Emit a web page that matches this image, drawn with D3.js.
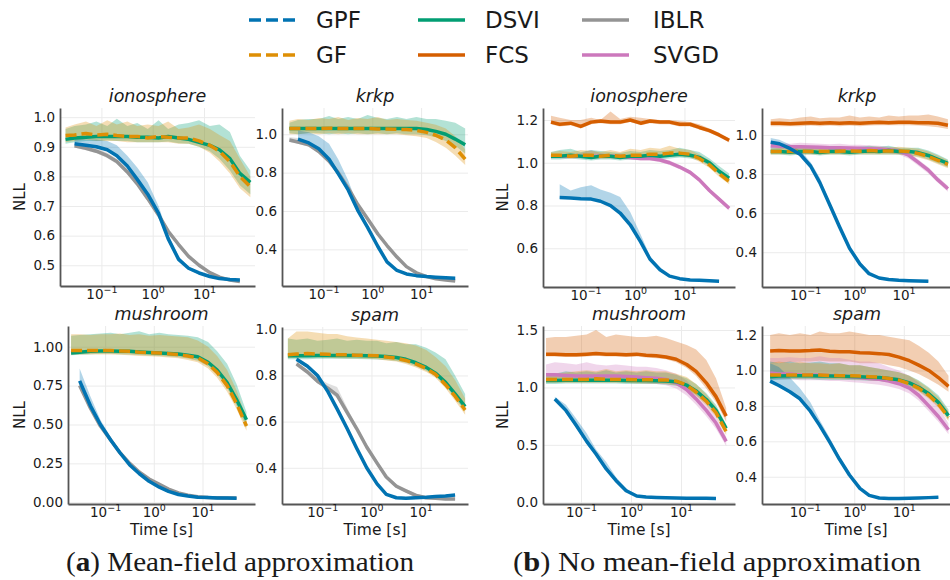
<!DOCTYPE html>
<html>
<head>
<meta charset="utf-8">
<script src="https://cdn.jsdelivr.net/npm/d3@7"></script>
<style>
	body { margin: 0; background: #fff; }
	svg text { font-family: "DejaVu Sans", sans-serif; fill: #1a1a1a; }
	.grid line { stroke: #ebebeb; stroke-width: 1; }
	.grid path { display: none; }
	.axis path { stroke: #555; stroke-width: 1.8; }
	.axis line { display: none; }
	.axis text { font-size: 13.5px; fill: #1a1a1a; }
	.caption { font-family: "Liberation Serif", serif !important; font-size: 28px; }
</style>
</head>
<body>
<svg id="graph" width="950" height="580"></svg>
<script>
// shared time grid (seconds) and tick values
var times = [0.02, 0.03, 0.05, 0.08, 0.13, 0.2, 0.32, 0.5, 0.8, 1.3, 2, 3.2, 5, 8, 13, 20, 32, 50, 80];
var xTicks = [0.1, 1, 10];
var xTickExp = ["\u22121", "0", "1"];
var legendNames = ["GPF", "GF", "DSVI", "FCS", "IBLR", "SVGD"];
var captions = ["Mean-field approximation", "No mean-field approximation"];

var ticksIonoA = [0.5, 0.6, 0.7, 0.8, 0.9, 1.0];
var ticksKrkpA = [0.4, 0.6, 0.8, 1.0];
var ticksIonoB = [0.6, 0.8, 1.0, 1.2];
var ticksKrkpB = [0.4, 0.6, 0.8, 1.0];
var ticksMushA = [0, 0.25, 0.5, 0.75, 1.0];
var ticksSpamA = [0.4, 0.6, 0.8, 1.0];
var ticksMushB = [0, 0.5, 1.0, 1.5];
var ticksSpamB = [0.4, 0.6, 0.8, 1.0, 1.2];

// (a) ionosphere
var ionoA_GPF = [null, 0.91, 0.905, 0.90, 0.89, 0.87, 0.835, 0.79, 0.74, 0.675, 0.59, 0.52, 0.49, 0.474, 0.462, 0.455, 0.452, 0.45, null];
var ionoA_GPF_hi = [null, 0.93, 0.925, 0.925, 0.92, 0.905, 0.87, 0.83, 0.78, 0.70, 0.605, 0.53, 0.495, 0.478, 0.466, 0.458, 0.455, 0.453, null];
var ionoA_GPF_lo = [null, 0.905, 0.9, 0.895, 0.885, 0.865, 0.83, 0.785, 0.735, 0.67, 0.585, 0.515, 0.485, 0.47, 0.458, 0.452, 0.449, 0.447, null];
var ionoA_IBLR = [null, 0.903, 0.895, 0.885, 0.87, 0.85, 0.815, 0.775, 0.725, 0.67, 0.615, 0.57, 0.53, 0.5, 0.475, 0.46, 0.45, 0.445, null];
var ionoA_IBLR_hi = [null, 0.91, 0.905, 0.895, 0.88, 0.86, 0.825, 0.785, 0.735, 0.68, 0.625, 0.578, 0.537, 0.506, 0.48, 0.465, 0.455, 0.45, null];
var ionoA_IBLR_lo = [null, 0.897, 0.888, 0.878, 0.862, 0.842, 0.807, 0.767, 0.717, 0.662, 0.607, 0.563, 0.524, 0.495, 0.47, 0.456, 0.446, 0.441, null];
var ionoA_GF = [0.938, 0.94, 0.945, 0.94, 0.942, 0.938, 0.935, 0.935, 0.93, 0.935, 0.932, 0.93, 0.93, 0.92, 0.905, 0.885, 0.85, 0.80, 0.765];
var ionoA_GF_hi = [0.965, 0.975, 0.985, 0.97, 0.99, 0.975, 0.985, 0.97, 0.975, 0.97, 0.985, 0.96, 0.965, 0.975, 0.96, 0.94, 0.92, 0.86, 0.80];
var ionoA_GF_lo = [0.915, 0.92, 0.925, 0.92, 0.92, 0.92, 0.915, 0.915, 0.915, 0.915, 0.915, 0.91, 0.91, 0.9, 0.88, 0.85, 0.81, 0.76, 0.73];
var ionoA_DSVI = [0.925, 0.93, 0.932, 0.935, 0.935, 0.935, 0.935, 0.932, 0.932, 0.93, 0.935, 0.93, 0.925, 0.915, 0.905, 0.89, 0.86, 0.81, 0.78];
var ionoA_DSVI_hi = [0.96, 0.97, 0.975, 0.985, 0.97, 0.995, 0.97, 0.98, 0.96, 0.99, 0.96, 0.975, 0.98, 0.99, 0.97, 0.975, 0.95, 0.87, 0.82];
var ionoA_DSVI_lo = [0.91, 0.915, 0.92, 0.92, 0.922, 0.92, 0.92, 0.915, 0.915, 0.915, 0.918, 0.912, 0.91, 0.9, 0.885, 0.86, 0.82, 0.77, 0.74];

// (a) krkp
var krkpA_GPF = [null, 0.975, 0.955, 0.925, 0.87, 0.795, 0.71, 0.605, 0.515, 0.415, 0.335, 0.29, 0.272, 0.263, 0.258, 0.255, 0.252, 0.25, null];
var krkpA_GPF_hi = [null, 1.02, 1.01, 0.99, 0.95, 0.87, 0.76, 0.63, 0.525, 0.42, 0.34, 0.295, 0.276, 0.267, 0.262, 0.258, 0.255, 0.253, null];
var krkpA_GPF_lo = [null, 0.97, 0.95, 0.92, 0.865, 0.79, 0.705, 0.6, 0.51, 0.41, 0.33, 0.286, 0.268, 0.259, 0.254, 0.251, 0.249, 0.247, null];
var krkpA_IBLR = [0.97, 0.96, 0.945, 0.91, 0.86, 0.8, 0.72, 0.635, 0.56, 0.48, 0.42, 0.36, 0.31, 0.278, 0.258, 0.247, 0.24, 0.235, null];
var krkpA_IBLR_hi = [0.985, 0.98, 0.96, 0.925, 0.87, 0.81, 0.73, 0.645, 0.57, 0.49, 0.428, 0.367, 0.316, 0.283, 0.262, 0.251, 0.244, 0.239, null];
var krkpA_IBLR_lo = [0.96, 0.95, 0.935, 0.9, 0.85, 0.79, 0.71, 0.625, 0.55, 0.47, 0.412, 0.353, 0.304, 0.273, 0.254, 0.243, 0.236, 0.231, null];
var krkpA_GF = [1.03, 1.03, 1.03, 1.03, 1.032, 1.03, 1.03, 1.03, 1.03, 1.028, 1.028, 1.026, 1.025, 1.02, 1.01, 0.995, 0.97, 0.93, 0.87];
var krkpA_GF_hi = [1.07, 1.08, 1.075, 1.085, 1.08, 1.09, 1.075, 1.085, 1.08, 1.09, 1.075, 1.08, 1.075, 1.07, 1.06, 1.05, 1.03, 0.99, 0.92];
var krkpA_GF_lo = [1.0, 1.0, 1.005, 1.0, 1.005, 1.0, 1.005, 1.0, 1.0, 1.0, 1.0, 1.0, 0.995, 0.99, 0.98, 0.96, 0.93, 0.89, 0.84];
var krkpA_DSVI = [1.03, 1.03, 1.03, 1.03, 1.03, 1.03, 1.03, 1.03, 1.03, 1.03, 1.03, 1.03, 1.03, 1.03, 1.025, 1.015, 1.0, 0.975, 0.945];
var krkpA_DSVI_hi = [1.06, 1.075, 1.08, 1.08, 1.095, 1.08, 1.09, 1.08, 1.1, 1.085, 1.08, 1.09, 1.08, 1.09, 1.08, 1.08, 1.07, 1.06, 1.03];
var krkpA_DSVI_lo = [1.005, 1.0, 1.005, 1.005, 1.0, 1.005, 1.0, 1.005, 1.0, 1.005, 1.0, 1.005, 1.0, 1.0, 0.995, 0.985, 0.965, 0.94, 0.9];

// (b) ionosphere
var ionoB_GPF = [null, 0.837, 0.835, 0.832, 0.83, 0.82, 0.80, 0.765, 0.71, 0.63, 0.55, 0.5, 0.47, 0.458, 0.452, 0.45, 0.448, 0.446, null];
var ionoB_GPF_hi = [null, 0.9, 0.87, 0.885, 0.895, 0.875, 0.86, 0.84, 0.77, 0.665, 0.565, 0.505, 0.475, 0.462, 0.456, 0.454, 0.452, 0.45, null];
var ionoB_GPF_lo = [null, 0.832, 0.83, 0.827, 0.825, 0.815, 0.795, 0.76, 0.705, 0.625, 0.545, 0.495, 0.466, 0.454, 0.448, 0.446, 0.444, 0.442, null];
var ionoB_FCS = [1.19, 1.18, 1.185, 1.17, 1.19, 1.195, 1.19, 1.19, 1.2, 1.185, 1.195, 1.19, 1.19, 1.18, 1.18, 1.165, 1.15, 1.13, 1.105];
var ionoB_FCS_hi = [1.22, 1.21, 1.2, 1.2, 1.21, 1.2, 1.24, 1.205, 1.215, 1.21, 1.205, 1.2, 1.2, 1.195, 1.19, 1.18, 1.16, 1.14, 1.115];
var ionoB_FCS_lo = [1.18, 1.17, 1.175, 1.16, 1.18, 1.185, 1.18, 1.18, 1.19, 1.175, 1.185, 1.18, 1.18, 1.17, 1.17, 1.155, 1.14, 1.12, 1.095];
var ionoB_GF = [1.035, 1.035, 1.03, 1.035, 1.035, 1.03, 1.035, 1.03, 1.035, 1.035, 1.04, 1.04, 1.045, 1.045, 1.04, 1.02, 0.99, 0.95, 0.912];
var ionoB_GF_hi = [1.05, 1.055, 1.05, 1.06, 1.055, 1.05, 1.06, 1.05, 1.065, 1.06, 1.07, 1.065, 1.08, 1.065, 1.06, 1.04, 1.01, 0.97, 0.93];
var ionoB_GF_lo = [1.025, 1.025, 1.02, 1.025, 1.025, 1.02, 1.02, 1.02, 1.025, 1.025, 1.025, 1.03, 1.03, 1.03, 1.025, 1.005, 0.975, 0.935, 0.9];
var ionoB_DSVI = [1.03, 1.03, 1.035, 1.03, 1.025, 1.03, 1.03, 1.025, 1.03, 1.03, 1.035, 1.03, 1.035, 1.04, 1.035, 1.025, 1.0, 0.96, 0.928];
var ionoB_DSVI_hi = [1.05, 1.06, 1.065, 1.05, 1.06, 1.055, 1.05, 1.045, 1.055, 1.05, 1.06, 1.055, 1.06, 1.07, 1.06, 1.05, 1.02, 0.985, 0.95];
var ionoB_DSVI_lo = [1.015, 1.015, 1.02, 1.015, 1.01, 1.015, 1.015, 1.01, 1.015, 1.015, 1.02, 1.015, 1.02, 1.025, 1.02, 1.01, 0.985, 0.945, 0.91];
var ionoB_SVGD = [1.03, 1.03, 1.03, 1.03, 1.03, 1.03, 1.03, 1.03, 1.025, 1.02, 1.02, 1.013, 1.0, 0.98, 0.955, 0.92, 0.87, 0.83, 0.787];
var ionoB_SVGD_hi = [1.04, 1.04, 1.04, 1.045, 1.06, 1.045, 1.04, 1.04, 1.035, 1.03, 1.03, 1.023, 1.01, 0.99, 0.965, 0.93, 0.88, 0.84, 0.797];
var ionoB_SVGD_lo = [1.02, 1.02, 1.02, 1.02, 1.02, 1.02, 1.02, 1.02, 1.015, 1.01, 1.01, 1.003, 0.99, 0.97, 0.945, 0.91, 0.86, 0.82, 0.777];

// (b) krkp
var krkpB_GPF = [0.963, 0.955, 0.93, 0.9, 0.84, 0.755, 0.64, 0.53, 0.42, 0.34, 0.29, 0.268, 0.26, 0.256, 0.254, 0.253, 0.252, null, null];
var krkpB_GPF_hi = [0.985, 0.975, 0.95, 0.92, 0.86, 0.78, 0.655, 0.54, 0.425, 0.345, 0.294, 0.272, 0.264, 0.26, 0.258, 0.257, 0.256, null, null];
var krkpB_GPF_lo = [0.955, 0.948, 0.925, 0.895, 0.835, 0.75, 0.635, 0.525, 0.415, 0.336, 0.286, 0.264, 0.256, 0.252, 0.25, 0.249, 0.248, null, null];
var krkpB_FCS = [1.06, 1.06, 1.058, 1.06, 1.062, 1.06, 1.062, 1.06, 1.063, 1.06, 1.062, 1.065, 1.063, 1.065, 1.065, 1.063, 1.062, 1.06, 1.05];
var krkpB_FCS_hi = [1.08, 1.085, 1.08, 1.09, 1.095, 1.085, 1.09, 1.09, 1.1, 1.09, 1.095, 1.09, 1.1, 1.095, 1.1, 1.1, 1.105, 1.095, 1.08];
var krkpB_FCS_lo = [1.045, 1.045, 1.045, 1.045, 1.048, 1.045, 1.048, 1.045, 1.048, 1.045, 1.048, 1.05, 1.05, 1.05, 1.05, 1.048, 1.045, 1.04, 1.03];
var krkpB_GF = [0.915, 0.915, 0.915, 0.917, 0.915, 0.915, 0.915, 0.917, 0.918, 0.917, 0.92, 0.918, 0.918, 0.918, 0.915, 0.905, 0.89, 0.87, 0.85];
var krkpB_GF_hi = [0.93, 0.935, 0.935, 0.94, 0.935, 0.94, 0.935, 0.94, 0.94, 0.935, 0.94, 0.94, 0.935, 0.94, 0.935, 0.93, 0.915, 0.895, 0.87];
var krkpB_GF_lo = [0.9, 0.9, 0.9, 0.9, 0.9, 0.9, 0.9, 0.9, 0.9, 0.9, 0.9, 0.9, 0.9, 0.9, 0.895, 0.885, 0.87, 0.85, 0.83];
var krkpB_DSVI = [0.915, 0.915, 0.912, 0.915, 0.915, 0.91, 0.915, 0.915, 0.912, 0.915, 0.918, 0.915, 0.92, 0.915, 0.915, 0.91, 0.895, 0.875, 0.855];
var krkpB_DSVI_hi = [0.94, 0.935, 0.94, 0.94, 0.935, 0.94, 0.935, 0.94, 0.935, 0.94, 0.945, 0.94, 0.945, 0.935, 0.935, 0.935, 0.92, 0.9, 0.875];
var krkpB_DSVI_lo = [0.9, 0.9, 0.895, 0.9, 0.9, 0.895, 0.9, 0.9, 0.895, 0.9, 0.9, 0.9, 0.9, 0.9, 0.895, 0.89, 0.875, 0.855, 0.835];
var krkpB_SVGD = [0.945, 0.942, 0.94, 0.94, 0.938, 0.937, 0.935, 0.935, 0.933, 0.932, 0.93, 0.928, 0.925, 0.918, 0.895, 0.86, 0.82, 0.77, 0.725];
var krkpB_SVGD_hi = [0.965, 0.96, 0.955, 0.96, 0.958, 0.955, 0.953, 0.955, 0.95, 0.95, 0.948, 0.945, 0.94, 0.933, 0.91, 0.875, 0.835, 0.785, 0.74];
var krkpB_SVGD_lo = [0.93, 0.928, 0.925, 0.925, 0.922, 0.92, 0.918, 0.918, 0.916, 0.915, 0.913, 0.911, 0.908, 0.9, 0.878, 0.843, 0.803, 0.755, 0.71];

// (a) mushroom
var mushA_GPF = [null, 0.78, 0.62, 0.5, 0.4, 0.32, 0.24, 0.185, 0.135, 0.097, 0.07, 0.05, 0.04, 0.033, 0.03, 0.028, 0.027, 0.026, null];
var mushA_GPF_hi = [null, 0.86, 0.68, 0.53, 0.42, 0.335, 0.25, 0.195, 0.14, 0.101, 0.074, 0.053, 0.043, 0.036, 0.033, 0.031, 0.03, 0.029, null];
var mushA_GPF_lo = [null, 0.75, 0.6, 0.49, 0.39, 0.31, 0.234, 0.178, 0.13, 0.093, 0.067, 0.047, 0.037, 0.03, 0.027, 0.025, 0.024, 0.023, null];
var mushA_IBLR = [null, 0.75, 0.605, 0.49, 0.4, 0.32, 0.25, 0.195, 0.15, 0.115, 0.085, 0.06, 0.045, 0.036, 0.031, 0.029, 0.028, 0.028, null];
var mushA_IBLR_hi = [null, 0.78, 0.63, 0.5, 0.41, 0.33, 0.258, 0.202, 0.156, 0.12, 0.089, 0.064, 0.048, 0.039, 0.034, 0.032, 0.031, 0.031, null];
var mushA_IBLR_lo = [null, 0.73, 0.595, 0.48, 0.39, 0.312, 0.242, 0.188, 0.144, 0.11, 0.081, 0.056, 0.042, 0.033, 0.028, 0.026, 0.025, 0.025, null];
var mushA_GF = [0.975, 0.975, 0.975, 0.975, 0.975, 0.972, 0.97, 0.965, 0.962, 0.96, 0.955, 0.95, 0.94, 0.928, 0.89, 0.835, 0.75, 0.635, 0.49];
var mushA_GF_hi = [1.08, 1.08, 1.075, 1.08, 1.08, 1.085, 1.075, 1.08, 1.07, 1.075, 1.07, 1.065, 1.06, 1.04, 1.0, 0.94, 0.85, 0.72, 0.54];
var mushA_GF_lo = [0.95, 0.95, 0.95, 0.95, 0.95, 0.948, 0.945, 0.94, 0.938, 0.935, 0.93, 0.925, 0.915, 0.9, 0.86, 0.8, 0.71, 0.6, 0.46];
var mushA_DSVI = [0.96, 0.965, 0.97, 0.972, 0.972, 0.97, 0.97, 0.966, 0.963, 0.96, 0.957, 0.953, 0.945, 0.935, 0.9, 0.85, 0.77, 0.66, 0.53];
var mushA_DSVI_hi = [1.07, 1.075, 1.08, 1.085, 1.09, 1.08, 1.09, 1.1, 1.08, 1.09, 1.08, 1.075, 1.07, 1.06, 1.03, 0.97, 0.89, 0.76, 0.58];
var mushA_DSVI_lo = [0.945, 0.948, 0.952, 0.955, 0.955, 0.952, 0.95, 0.946, 0.943, 0.94, 0.937, 0.932, 0.924, 0.91, 0.875, 0.82, 0.735, 0.62, 0.48];

// (a) spam
var spamA_GPF = [null, 0.87, 0.84, 0.8, 0.73, 0.655, 0.57, 0.485, 0.4, 0.33, 0.285, 0.27, 0.268, 0.27, 0.272, 0.275, 0.278, 0.282, null];
var spamA_GPF_hi = [null, 0.88, 0.85, 0.81, 0.74, 0.665, 0.578, 0.492, 0.406, 0.335, 0.29, 0.275, 0.273, 0.275, 0.277, 0.28, 0.283, 0.287, null];
var spamA_GPF_lo = [null, 0.862, 0.832, 0.792, 0.722, 0.647, 0.562, 0.478, 0.394, 0.325, 0.28, 0.265, 0.263, 0.265, 0.267, 0.27, 0.273, 0.277, null];
var spamA_IBLR = [null, 0.85, 0.815, 0.775, 0.745, 0.715, 0.64, 0.57, 0.49, 0.42, 0.36, 0.32, 0.3, 0.28, 0.27, 0.268, 0.265, 0.265, null];
var spamA_IBLR_hi = [null, 0.86, 0.825, 0.79, 0.765, 0.75, 0.66, 0.58, 0.5, 0.43, 0.37, 0.33, 0.308, 0.288, 0.277, 0.274, 0.271, 0.27, null];
var spamA_IBLR_lo = [null, 0.84, 0.805, 0.765, 0.735, 0.7, 0.625, 0.56, 0.48, 0.41, 0.352, 0.312, 0.292, 0.272, 0.263, 0.262, 0.259, 0.26, null];
var spamA_GF = [0.89, 0.893, 0.895, 0.893, 0.892, 0.89, 0.89, 0.888, 0.887, 0.885, 0.88, 0.875, 0.865, 0.85, 0.83, 0.805, 0.76, 0.71, 0.65];
var spamA_GF_hi = [0.96, 0.99, 0.99, 0.985, 0.98, 0.98, 0.97, 0.965, 0.96, 0.955, 0.95, 0.945, 0.94, 0.93, 0.91, 0.88, 0.84, 0.78, 0.7];
var spamA_GF_lo = [0.875, 0.878, 0.88, 0.878, 0.877, 0.875, 0.875, 0.873, 0.872, 0.87, 0.865, 0.86, 0.85, 0.835, 0.815, 0.79, 0.745, 0.69, 0.63];
var spamA_DSVI = [0.885, 0.885, 0.885, 0.887, 0.887, 0.887, 0.886, 0.886, 0.885, 0.884, 0.882, 0.878, 0.87, 0.855, 0.835, 0.81, 0.77, 0.72, 0.665];
var spamA_DSVI_hi = [0.96, 0.955, 0.96, 0.95, 0.955, 0.96, 0.95, 0.955, 0.95, 0.95, 0.94, 0.945, 0.935, 0.935, 0.92, 0.9, 0.87, 0.8, 0.72];
var spamA_DSVI_lo = [0.87, 0.87, 0.87, 0.872, 0.872, 0.872, 0.871, 0.871, 0.87, 0.869, 0.867, 0.863, 0.855, 0.84, 0.82, 0.795, 0.755, 0.7, 0.645];

// (b) mushroom
var mushB_GPF = [null, 0.9, 0.8, 0.67, 0.53, 0.42, 0.29, 0.19, 0.1, 0.055, 0.045, 0.042, 0.04, 0.038, 0.036, 0.035, 0.034, 0.033, null];
var mushB_GPF_hi = [null, 0.92, 0.85, 0.73, 0.6, 0.46, 0.35, 0.22, 0.12, 0.065, 0.05, 0.047, 0.045, 0.043, 0.041, 0.04, 0.039, 0.038, null];
var mushB_GPF_lo = [null, 0.88, 0.78, 0.65, 0.51, 0.4, 0.275, 0.18, 0.095, 0.05, 0.04, 0.037, 0.035, 0.033, 0.031, 0.03, 0.029, 0.028, null];
var mushB_FCS = [1.29, 1.29, 1.285, 1.285, 1.29, 1.295, 1.29, 1.29, 1.285, 1.29, 1.28, 1.275, 1.265, 1.245, 1.2, 1.14, 1.04, 0.92, 0.75];
var mushB_FCS_hi = [1.43, 1.44, 1.44, 1.45, 1.46, 1.5, 1.44, 1.46, 1.45, 1.44, 1.44, 1.45, 1.43, 1.4, 1.37, 1.33, 1.24, 1.08, 0.82];
var mushB_FCS_lo = [1.27, 1.27, 1.265, 1.265, 1.27, 1.275, 1.27, 1.27, 1.265, 1.27, 1.26, 1.255, 1.245, 1.22, 1.17, 1.1, 0.99, 0.87, 0.7];
var mushB_SVGD = [1.11, 1.11, 1.105, 1.1, 1.1, 1.1, 1.1, 1.1, 1.095, 1.09, 1.085, 1.08, 1.07, 1.04, 0.98, 0.9, 0.8, 0.69, 0.53];
var mushB_SVGD_hi = [1.2, 1.22, 1.21, 1.2, 1.22, 1.2, 1.19, 1.2, 1.19, 1.18, 1.18, 1.17, 1.15, 1.12, 1.06, 0.97, 0.87, 0.75, 0.57];
var mushB_SVGD_lo = [1.06, 1.06, 1.055, 1.05, 1.05, 1.05, 1.05, 1.05, 1.045, 1.04, 1.035, 1.03, 1.02, 0.99, 0.93, 0.85, 0.75, 0.64, 0.49];
var mushB_GF = [1.07, 1.07, 1.07, 1.07, 1.07, 1.075, 1.07, 1.07, 1.07, 1.068, 1.068, 1.066, 1.065, 1.055, 1.02, 0.96, 0.88, 0.78, 0.615];
var mushB_GF_hi = [1.1, 1.12, 1.13, 1.14, 1.15, 1.14, 1.16, 1.14, 1.15, 1.14, 1.15, 1.14, 1.14, 1.12, 1.09, 1.03, 0.94, 0.83, 0.65];
var mushB_GF_lo = [1.04, 1.04, 1.04, 1.04, 1.04, 1.04, 1.04, 1.04, 1.04, 1.035, 1.035, 1.035, 1.03, 1.02, 0.985, 0.925, 0.845, 0.745, 0.585];
var mushB_DSVI = [1.06, 1.06, 1.062, 1.062, 1.063, 1.063, 1.062, 1.062, 1.06, 1.06, 1.06, 1.058, 1.056, 1.05, 1.02, 0.97, 0.895, 0.8, 0.644];
var mushB_DSVI_hi = [1.12, 1.12, 1.14, 1.13, 1.14, 1.13, 1.15, 1.13, 1.14, 1.13, 1.14, 1.13, 1.13, 1.11, 1.08, 1.03, 0.95, 0.85, 0.68];
var mushB_DSVI_lo = [1.03, 1.03, 1.035, 1.035, 1.035, 1.035, 1.035, 1.035, 1.03, 1.03, 1.03, 1.03, 1.025, 1.015, 0.985, 0.935, 0.86, 0.765, 0.61];

// (b) spam
var spamB_GPF = [0.94, 0.915, 0.88, 0.84, 0.77, 0.69, 0.595, 0.5, 0.41, 0.334, 0.295, 0.28, 0.277, 0.277, 0.278, 0.28, 0.282, 0.284, null];
var spamB_GPF_hi = [1.04, 1.02, 0.96, 0.9, 0.82, 0.72, 0.62, 0.515, 0.42, 0.34, 0.3, 0.285, 0.282, 0.282, 0.283, 0.285, 0.287, 0.289, null];
var spamB_GPF_lo = [0.93, 0.905, 0.872, 0.832, 0.762, 0.682, 0.588, 0.493, 0.404, 0.328, 0.29, 0.275, 0.272, 0.272, 0.273, 0.275, 0.277, 0.279, null];
var spamB_FCS = [1.11, 1.112, 1.11, 1.11, 1.112, 1.115, 1.108, 1.105, 1.105, 1.1, 1.098, 1.095, 1.09, 1.075, 1.055, 1.03, 1.0, 0.96, 0.91];
var spamB_FCS_hi = [1.2, 1.21, 1.2, 1.21, 1.2, 1.22, 1.21, 1.21, 1.22, 1.21, 1.2, 1.2, 1.19, 1.18, 1.17, 1.14, 1.1, 1.05, 0.97];
var spamB_FCS_lo = [1.04, 1.04, 1.045, 1.05, 1.05, 1.055, 1.05, 1.05, 1.05, 1.04, 1.04, 1.04, 1.03, 1.02, 1.0, 0.98, 0.95, 0.92, 0.88];
var spamB_SVGD = [0.985, 0.98, 0.98, 0.975, 0.975, 0.975, 0.97, 0.97, 0.965, 0.96, 0.955, 0.95, 0.94, 0.925, 0.9, 0.86, 0.8, 0.74, 0.665];
var spamB_SVGD_hi = [1.07, 1.07, 1.075, 1.07, 1.07, 1.08, 1.07, 1.07, 1.06, 1.05, 1.05, 1.04, 1.02, 1.0, 0.97, 0.93, 0.87, 0.8, 0.7];
var spamB_SVGD_lo = [0.95, 0.95, 0.95, 0.945, 0.945, 0.945, 0.94, 0.94, 0.935, 0.93, 0.925, 0.92, 0.91, 0.895, 0.87, 0.83, 0.77, 0.71, 0.64];
var spamB_GF = [0.975, 0.975, 0.975, 0.975, 0.975, 0.975, 0.972, 0.97, 0.97, 0.968, 0.965, 0.962, 0.955, 0.945, 0.925, 0.9, 0.86, 0.81, 0.735];
var spamB_GF_hi = [1.04, 1.05, 1.04, 1.05, 1.04, 1.04, 1.035, 1.04, 1.03, 1.03, 1.02, 1.01, 1.0, 0.99, 0.97, 0.94, 0.9, 0.85, 0.77];
var spamB_GF_lo = [0.955, 0.955, 0.955, 0.955, 0.955, 0.955, 0.952, 0.95, 0.95, 0.948, 0.945, 0.942, 0.935, 0.925, 0.905, 0.88, 0.84, 0.79, 0.715];
var spamB_DSVI = [0.965, 0.968, 0.97, 0.97, 0.97, 0.968, 0.968, 0.967, 0.966, 0.965, 0.962, 0.96, 0.955, 0.947, 0.93, 0.905, 0.868, 0.82, 0.745];
var spamB_DSVI_hi = [1.05, 1.04, 1.05, 1.04, 1.045, 1.05, 1.04, 1.04, 1.03, 1.03, 1.02, 1.01, 1.0, 0.99, 0.97, 0.945, 0.905, 0.86, 0.78];
var spamB_DSVI_lo = [0.945, 0.948, 0.95, 0.95, 0.95, 0.948, 0.948, 0.947, 0.946, 0.945, 0.942, 0.94, 0.935, 0.927, 0.91, 0.885, 0.848, 0.8, 0.725];

document.addEventListener("DOMContentLoaded", function(event) {
	var svg = d3.select("#graph");

	var colors = {GPF: "#0173b2", GF: "#de8f05", DSVI: "#029e73", FCS: "#d55e00", IBLR: "#949494", SVGD: "#cc78bc"},
		dashed = {GPF: true, GF: true};

	// box = [left, right, top, bottom]
	var panels = [
		{title: "ionosphere", box: [60, 255, 108, 286], xDom: [0.0156, 98.6], yDom: [0.43, 1.031], ticks: ticksIonoA, fmt: ".1f", nll: true, time: false,
			series: {GPF: [ionoA_GPF, ionoA_GPF_lo, ionoA_GPF_hi], IBLR: [ionoA_IBLR, ionoA_IBLR_lo, ionoA_IBLR_hi], GF: [ionoA_GF, ionoA_GF_lo, ionoA_GF_hi], DSVI: [ionoA_DSVI, ionoA_DSVI_lo, ionoA_DSVI_hi]}},
		{title: "krkp", box: [282, 468, 108, 286], xDom: [0.0141, 91.4], yDom: [0.209, 1.137], ticks: ticksKrkpA, fmt: ".1f", nll: false, time: false,
			series: {GPF: [krkpA_GPF, krkpA_GPF_lo, krkpA_GPF_hi], IBLR: [krkpA_IBLR, krkpA_IBLR_lo, krkpA_IBLR_hi], GF: [krkpA_GF, krkpA_GF_lo, krkpA_GF_hi], DSVI: [krkpA_DSVI, krkpA_DSVI_lo, krkpA_DSVI_hi]}},
		{title: "ionosphere", box: [543, 735, 108, 287], xDom: [0.0138, 105], yDom: [0.419, 1.256], ticks: ticksIonoB, fmt: ".1f", nll: true, time: false,
			series: {GPF: [ionoB_GPF, ionoB_GPF_lo, ionoB_GPF_hi], FCS: [ionoB_FCS, ionoB_FCS_lo, ionoB_FCS_hi], GF: [ionoB_GF, ionoB_GF_lo, ionoB_GF_hi], DSVI: [ionoB_DSVI, ionoB_DSVI_lo, ionoB_DSVI_hi], SVGD: [ionoB_SVGD, ionoB_SVGD_lo, ionoB_SVGD_hi]}},
		{title: "krkp", box: [762, 952, 108, 287], xDom: [0.0133, 96.8], yDom: [0.222, 1.138], ticks: ticksKrkpB, fmt: ".1f", nll: false, time: false,
			series: {GPF: [krkpB_GPF, krkpB_GPF_lo, krkpB_GPF_hi], FCS: [krkpB_FCS, krkpB_FCS_lo, krkpB_FCS_hi], GF: [krkpB_GF, krkpB_GF_lo, krkpB_GF_hi], DSVI: [krkpB_DSVI, krkpB_DSVI_lo, krkpB_DSVI_hi], SVGD: [krkpB_SVGD, krkpB_SVGD_lo, krkpB_SVGD_hi]}},
		{title: "mushroom", box: [68, 255, 326, 504], xDom: [0.0173, 119.7], yDom: [-0.011, 1.133], ticks: ticksMushA, fmt: ".2f", nll: true, time: true,
			series: {GPF: [mushA_GPF, mushA_GPF_lo, mushA_GPF_hi], IBLR: [mushA_IBLR, mushA_IBLR_lo, mushA_IBLR_hi], GF: [mushA_GF, mushA_GF_lo, mushA_GF_hi], DSVI: [mushA_DSVI, mushA_DSVI_lo, mushA_DSVI_hi]}},
		{title: "spam", box: [282, 468, 327, 504], xDom: [0.0152, 91.5], yDom: [0.243, 1.01], ticks: ticksSpamA, fmt: ".1f", nll: false, time: true,
			series: {GPF: [spamA_GPF, spamA_GPF_lo, spamA_GPF_hi], IBLR: [spamA_IBLR, spamA_IBLR_lo, spamA_IBLR_hi], GF: [spamA_GF, spamA_GF_lo, spamA_GF_hi], DSVI: [spamA_DSVI, spamA_DSVI_lo, spamA_DSVI_hi]}},
		{title: "mushroom", box: [543, 735, 326, 504], xDom: [0.0174, 120], yDom: [-0.015, 1.535], ticks: ticksMushB, fmt: ".1f", nll: true, time: true,
			series: {GPF: [mushB_GPF, mushB_GPF_lo, mushB_GPF_hi], FCS: [mushB_FCS, mushB_FCS_lo, mushB_FCS_hi], GF: [mushB_GF, mushB_GF_lo, mushB_GF_hi], DSVI: [mushB_DSVI, mushB_DSVI_lo, mushB_DSVI_hi], SVGD: [mushB_SVGD, mushB_SVGD_lo, mushB_SVGD_hi]}},
		{title: "spam", box: [762, 952, 326, 504], xDom: [0.0137, 94.2], yDom: [0.246, 1.251], ticks: ticksSpamB, fmt: ".1f", nll: false, time: true,
			series: {GPF: [spamB_GPF, spamB_GPF_lo, spamB_GPF_hi], FCS: [spamB_FCS, spamB_FCS_lo, spamB_FCS_hi], GF: [spamB_GF, spamB_GF_lo, spamB_GF_hi], DSVI: [spamB_DSVI, spamB_DSVI_lo, spamB_DSVI_hi], SVGD: [spamB_SVGD, spamB_SVGD_lo, spamB_SVGD_hi]}}
	];

	var bandOrder = ["FCS", "SVGD", "DSVI", "GF", "IBLR", "GPF"],
		lineOrder = ["SVGD", "FCS", "DSVI", "IBLR", "GF", "GPF"];

	var drawPanel = function(p) {
		var L = p.box[0], R = p.box[1], T = p.box[2], B = p.box[3];
		var x = d3.scaleLog().domain(p.xDom).range([L, R]),
			y = d3.scaleLinear().domain(p.yDom).range([B, T]);
		var g = svg.append("g").attr("class", "panel");

		//grid
		g.append("g")
			.attr("class", "grid")
			.attr("transform", "translate(0," + B + ")")
			.call(d3.axisBottom(x).tickValues(xTicks).tickSize(-(B - T)).tickFormat(""));
		g.append("g")
			.attr("class", "grid")
			.attr("transform", "translate(" + L + ",0)")
			.call(d3.axisLeft(y).tickValues(p.ticks).tickSize(-(R - L)).tickFormat(""));

		var rows = function(arr) {
			return times.map(function(t, i) { return {t: t, v: arr[i]}; });
		};

		var area = d3.area()
			.defined(function(d) { return d.lo != null; })
			.x(function(d) { return x(d.t); })
			.y0(function(d) { return y(d.lo); })
			.y1(function(d) { return y(d.hi); });
		var line = d3.line()
			.defined(function(d) { return d.v != null; })
			.x(function(d) { return x(d.t); })
			.y(function(d) { return y(d.v); });

		bandOrder.forEach(function(m) {
			var s = p.series[m];
			if (!s) return;
			var bd = times.map(function(t, i) { return {t: t, lo: s[1][i], hi: s[2][i]}; });
			g.append("path")
				.datum(bd)
				.attr("d", area)
				.attr("fill", colors[m])
				.attr("fill-opacity", 0.3)
				.attr("stroke", "none");
		});

		lineOrder.forEach(function(m) {
			var s = p.series[m];
			if (!s) return;
			var path = g.append("path")
				.datum(rows(s[0]))
				.attr("d", line)
				.attr("fill", "none")
				.attr("stroke", colors[m])
				.attr("stroke-width", 3.5)
				.attr("stroke-linejoin", "round");
			// the GPF curve reads as solid in the panels, only GF shows its dashes
			if (m == "GF") path.attr("stroke-dasharray", "11,5");
		});

		//axes
		var yAxis = g.append("g")
			.attr("class", "axis")
			.attr("transform", "translate(" + L + ",0)")
			.call(d3.axisLeft(y).tickValues(p.ticks).tickFormat(d3.format(p.fmt)).tickSizeOuter(0).tickPadding(5));
		yAxis.selectAll("text").attr("x", -5);

		var xAxis = g.append("g")
			.attr("class", "axis")
			.attr("transform", "translate(0," + B + ")")
			.call(d3.axisBottom(x).tickValues(xTicks).tickFormat("").tickSizeOuter(0));
		xAxis.selectAll(".tick").each(function(d, i) {
			var t = d3.select(this).append("text")
				.attr("y", 13)
				.attr("dy", 0)
				.attr("text-anchor", "middle");
			t.append("tspan").text("10");
			t.append("tspan").attr("dy", -6).attr("font-size", "9.5px").text(xTickExp[i]);
		});

		g.append("text")
			.attr("x", (L + Math.min(R, 950)) / 2 + (R > 950 ? 1 : 0))
			.attr("y", T - 6)
			.attr("text-anchor", "middle")
			.attr("font-style", "italic")
			.attr("font-size", "17.5px")
			.text(p.title);

		if (p.nll) {
			g.append("text")
				.attr("transform", "translate(" + (L < 300 ? 25 : 508) + "," + ((T + B) / 2) + ") rotate(-90)")
				.attr("text-anchor", "middle")
				.attr("font-size", "15px")
				.text("NLL");
		}
		if (p.time) {
			g.append("text")
				.attr("x", (L + Math.min(R, 950)) / 2)
				.attr("y", 535)
				.attr("text-anchor", "middle")
				.attr("font-size", "15.5px")
				.text("Time [s]");
		}
	};

	panels.forEach(drawPanel);

	//legend
	var legend = svg.append("g").attr("class", "legend");
	var colX = [249, 418, 582], textX = [316, 485, 653], rowY = [20, 55];
	legendNames.forEach(function(m, i) {
		var c = Math.floor(i / 2), r = i % 2;
		legend.append("line")
			.attr("x1", colX[c]).attr("x2", colX[c] + 47)
			.attr("y1", rowY[r]).attr("y2", rowY[r])
			.attr("stroke", colors[m])
			.attr("stroke-width", 3.5)
			.attr("stroke-dasharray", dashed[m] ? "12,5" : null);
		legend.append("text")
			.attr("x", textX[c])
			.attr("y", rowY[r] + 8)
			.attr("font-size", "23px")
			.text(m);
	});

	//captions
	var capX = [66, 513], capW = [348, 408], capLetter = ["a", "b"];
	captions.forEach(function(c, i) {
		var t = svg.append("text")
			.attr("class", "caption")
			.attr("x", capX[i])
			.attr("y", 571)
			.attr("textLength", capW[i])
			.attr("lengthAdjust", "spacingAndGlyphs");
		t.append("tspan").text("(");
		t.append("tspan").attr("font-weight", "bold").text(capLetter[i]);
		t.append("tspan").text(") " + c);
	});
});
</script>
</body>
</html>
